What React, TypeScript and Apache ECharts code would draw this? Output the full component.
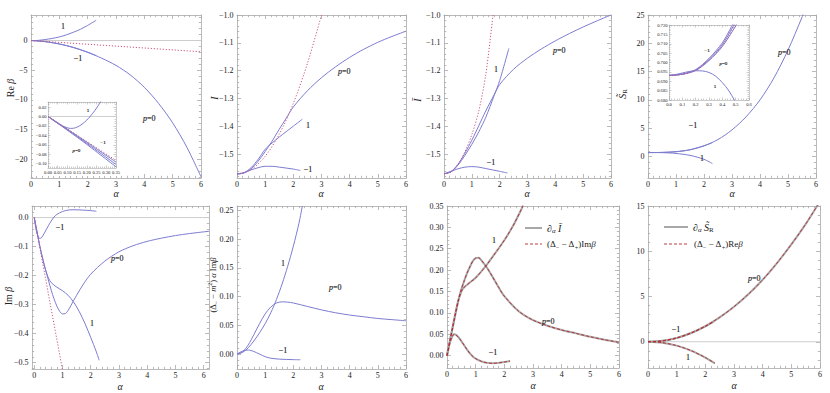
import React, { useEffect, useRef } from 'react';
import * as echarts from 'echarts';

// ---------------- tick labels ----------------
const alphaTicks = [0, 1, 2, 3, 4, 5, 6];
const reBetaTicks = [-20, -15, -10, -5, 0];
const iTicks = [-1.5, -1.4, -1.3, -1.2, -1.1, -1.0];
const sTicks = [0, 5, 10, 15, 20, 25];
const imBetaTicks = [-0.5, -0.4, -0.3, -0.2, -0.1, 0];
const dTicks = [0, 0.05, 0.1, 0.15, 0.2, 0.25];
const dITicks = [0, 0.05, 0.1, 0.15, 0.2, 0.25, 0.3, 0.35];
const dSTicks = [0, 5, 10, 15];
const inset1XTicks = [0, 0.05, 0.1, 0.15, 0.2, 0.25, 0.3, 0.35];
const inset1YTicks = [-0.1, -0.08, -0.06, -0.04, -0.02, 0, 0.02];
const inset4XTicks = [0, 0.1, 0.2, 0.3, 0.4, 0.5, 0.6];
const inset4YTicks = [0.68, 0.685, 0.69, 0.695, 0.7, 0.705, 0.71, 0.715, 0.72];

// ---------------- panel 1 : Re beta ----------------
const reBetaP0 = [[0, 0], [0.5, -0.2], [1, -0.6], [1.5, -1.2], [2, -2.0], [2.5, -3.0], [3, -4.2], [3.5, -5.8], [4, -7.9], [4.5, -10.6], [5, -13.9], [5.5, -18.0], [6, -23.0]];
const reBetaM1 = [[0, 0], [0.5, -0.19], [1, -0.58], [1.5, -1.17], [2, -1.97], [2.3, -2.55]];
const reBetaP1 = [[0, 0], [0.1, -0.025], [0.2, 0], [0.3, 0.045], [0.5, 0.16], [0.75, 0.35], [1, 0.6], [1.25, 0.95], [1.5, 1.4], [1.75, 1.9], [2, 2.55], [2.3, 3.4]];
const reBetaApprox = [[0, 0], [6, -1.9]];
const reBetaZero = [[0, 0], [6, 0]];
const reBetaLabels = [[1.14, 2.4, '1'], [1.67, -3.0, '−1'], [4.08, -13.1, 'p=0']];
// inset
const reInP1 = [[0, 0], [0.025, -0.0075], [0.05, -0.0145], [0.075, -0.02], [0.1, -0.024], [0.115, -0.0252], [0.13, -0.025], [0.15, -0.0225], [0.175, -0.0165], [0.2, -0.0075], [0.217, 0], [0.24, 0.012], [0.26, 0.024], [0.275, 0.034]];
const reInM1 = [[0, 0], [0.175, -0.0475], [0.35, -0.0965]];
const reInP0 = [[0, 0], [0.175, -0.0495], [0.35, -0.1015]];
const reInQ = [[0, 0], [0.175, -0.0515], [0.35, -0.1065]];
const reInApprox = [[0, 0], [0.35, -0.093]];
const reInZero = [[0, 0], [0.35, 0]];
const reInLabels = [[0.208, 0.0134, '1'], [0.285, -0.055, '−1'], [0.14, -0.071, 'p=0']];

// ---------------- panel 2 : I ----------------
const iP0 = [[0, -1.5708], [0.25, -1.567], [0.5, -1.552], [0.75, -1.525], [1, -1.49], [1.25, -1.452], [1.5, -1.41], [1.75, -1.37], [2, -1.33], [2.5, -1.272], [3, -1.225], [3.5, -1.186], [4, -1.152], [4.5, -1.123], [5, -1.098], [5.5, -1.077], [6, -1.058]];
const iP1 = [[0, -1.5708], [0.25, -1.566], [0.5, -1.548], [0.75, -1.518], [1, -1.482], [1.25, -1.459], [1.5, -1.438], [2, -1.399], [2.32, -1.374]];
const iM1 = [[0, -1.5708], [0.25, -1.566], [0.5, -1.556], [0.75, -1.548], [1, -1.543], [1.25, -1.543], [1.5, -1.546], [2, -1.553], [2.25, -1.558]];
const iApprox = [[0, -1.5708], [0.5, -1.555], [1, -1.507], [1.5, -1.428], [2, -1.317], [2.5, -1.174], [3, -1.0]];
const iLabels = [[3.72, -1.201, 'p=0'], [2.53, -1.396, '1'], [2.53, -1.552, '−1']];

// ---------------- panel 3 : I bar ----------------
const ibP0 = [[0, -1.5708], [0.25, -1.563], [0.5, -1.537], [0.75, -1.497], [1, -1.45], [1.25, -1.398], [1.5, -1.345], [1.8, -1.287], [2, -1.25], [2.5, -1.195], [3, -1.155], [3.5, -1.122], [4, -1.093], [4.5, -1.067], [5, -1.043], [5.5, -1.021], [6, -1.0]];
const ibP1 = [[0, -1.5708], [0.25, -1.564], [0.5, -1.54], [0.75, -1.505], [1, -1.465], [1.25, -1.42], [1.5, -1.368], [1.8, -1.29], [2, -1.236], [2.33, -1.12]];
const ibM1 = [[0, -1.5708], [0.25, -1.562], [0.5, -1.553], [0.75, -1.547], [1, -1.545], [1.25, -1.547], [1.5, -1.552], [2, -1.562], [2.28, -1.568]];
const ibApprox = [[0, -1.5708], [0.25, -1.565], [0.5, -1.537], [0.75, -1.492], [1, -1.43], [1.25, -1.345], [1.5, -1.215], [1.76, -1.0]];
const ibLabels = [[4.05, -1.127, 'p=0'], [1.86, -1.194, '1'], [1.7, -1.53, '−1']];

// ---------------- panel 4 : S_R ----------------
const sP0 = [[0, 0.693], [0.5, 0.72], [1, 0.84], [1.5, 1.18], [2, 1.88], [2.5, 3.0], [3, 4.7], [3.5, 7.0], [4, 10.0], [4.5, 13.9], [5, 18.8], [5.5, 24.6], [5.6, 25.9]];
const sM1 = [[0, 0.693], [0.5, 0.72], [1, 0.85], [1.5, 1.2], [2, 1.9], [2.3, 2.45]];
const sP1 = [[0, 0.693], [0.25, 0.695], [0.5, 0.679], [0.75, 0.63], [1, 0.54], [1.5, 0.2], [2, -0.5], [2.3, -1.25]];
const sLabels = [[4.77, 18.5, 'p=0'], [1.61, 5.6, '−1'], [1.93, -0.3, '1']];
// inset
const sInM1 = [[0, 0.6931], [0.1, 0.6938], [0.2, 0.6962], [0.3, 0.7022], [0.4, 0.7105], [0.47, 0.7193], [0.485, 0.7215]];
const sInP0 = [[0, 0.6931], [0.1, 0.6938], [0.2, 0.696], [0.3, 0.7016], [0.4, 0.7095], [0.48, 0.7192], [0.495, 0.7213]];
const sInQ = [[0, 0.6931], [0.1, 0.6937], [0.2, 0.6957], [0.3, 0.701], [0.4, 0.7085], [0.5, 0.7195], [0.512, 0.7213]];
const sInApprox = [[0, 0.6931], [0.1, 0.6937], [0.2, 0.6958], [0.3, 0.7013], [0.4, 0.709], [0.49, 0.7193], [0.505, 0.7213]];
const sInP1 = [[0, 0.6931], [0.05, 0.6936], [0.1, 0.6944], [0.15, 0.6952], [0.2, 0.6956], [0.25, 0.6955], [0.3, 0.6947], [0.35, 0.6927], [0.4, 0.6893], [0.45, 0.6848], [0.49, 0.68], [0.5, 0.6787]];
const sInLabels = [[0.284, 0.7067, '−1'], [0.397, 0.6996, 'p=0'], [0.347, 0.6873, '1']];

// ---------------- panel 5 : Im beta ----------------
const imP0 = [[0, 0], [0.1, -0.05], [0.2, -0.1], [0.3, -0.142], [0.4, -0.18], [0.5, -0.215], [0.6, -0.25], [0.7, -0.28], [0.8, -0.305], [0.9, -0.323], [1, -0.332], [1.1, -0.331], [1.2, -0.32], [1.3, -0.303], [1.4, -0.285], [1.5, -0.268], [1.75, -0.228], [2, -0.195], [2.5, -0.15], [3, -0.118], [3.5, -0.097], [4, -0.082], [4.5, -0.071], [5, -0.062], [5.5, -0.055], [6.2, -0.047]];
const imP1 = [[0, 0], [0.1, -0.05], [0.2, -0.1], [0.3, -0.143], [0.4, -0.18], [0.5, -0.208], [0.6, -0.224], [0.8, -0.24], [1, -0.252], [1.2, -0.268], [1.4, -0.292], [1.6, -0.325], [1.8, -0.366], [2, -0.413], [2.2, -0.463], [2.3, -0.492]];
const imM1 = [[0, 0], [0.05, -0.034], [0.1, -0.056], [0.15, -0.068], [0.2, -0.072], [0.25, -0.07], [0.3, -0.063], [0.4, -0.046], [0.5, -0.028], [0.6, -0.012], [0.7, 0.002], [0.8, 0.011], [1, 0.021], [1.2, 0.026], [1.4, 0.027], [1.7, 0.026], [2, 0.024], [2.2, 0.022]];
const imApprox = [[0, 0], [1, -0.525]];
const imZero = [[-0.08, 0], [6.19, 0]];
const imLabels = [[0.91, -0.031, '−1'], [2.85, -0.14, 'p=0'], [2.03, -0.364, '1']];

// ---------------- panel 6 : (Δ- - m²) α Im beta ----------------
const dP0 = [[0, 0], [0.2, 0.004], [0.4, 0.016], [0.6, 0.034], [0.8, 0.053], [1, 0.07], [1.2, 0.082], [1.4, 0.089], [1.6, 0.091], [1.8, 0.0905], [2, 0.089], [2.5, 0.083], [3, 0.077], [3.5, 0.072], [4, 0.068], [4.5, 0.065], [5, 0.062], [5.5, 0.06], [6, 0.058]];
const dP1 = [[0, 0], [0.2, 0.003], [0.4, 0.011], [0.6, 0.023], [0.8, 0.037], [1, 0.053], [1.2, 0.072], [1.4, 0.095], [1.6, 0.122], [1.8, 0.153], [2, 0.188], [2.2, 0.228], [2.32, 0.258]];
const dM1 = [[0, 0], [0.1, 0.003], [0.2, 0.0052], [0.3, 0.0066], [0.4, 0.007], [0.5, 0.0062], [0.6, 0.0045], [0.8, 0.0], [1, -0.0045], [1.2, -0.0072], [1.5, -0.0088], [2, -0.0097], [2.25, -0.0099]];
const dLabels = [[3.42, 0.117, 'p=0'], [1.64, 0.158, '1'], [1.64, 0.007, '−1']];

// ---------------- panel 7 : ∂α I bar ----------------
const dIP0 = [[0, 0], [0.1, 0.034], [0.2, 0.067], [0.3, 0.1], [0.4, 0.13], [0.5, 0.155], [0.6, 0.175], [0.7, 0.193], [0.8, 0.208], [0.9, 0.221], [1, 0.228], [1.1, 0.229], [1.2, 0.223], [1.4, 0.205], [1.6, 0.183], [1.8, 0.16], [2, 0.139], [2.5, 0.104], [3, 0.083], [3.5, 0.07], [4, 0.06], [4.5, 0.052], [5, 0.044], [5.5, 0.037], [6, 0.031]];
const dIP1 = [[0, 0], [0.1, 0.034], [0.2, 0.067], [0.3, 0.1], [0.4, 0.13], [0.5, 0.15], [0.6, 0.16], [0.8, 0.171], [1, 0.182], [1.3, 0.205], [1.6, 0.232], [2, 0.27], [2.3, 0.303], [2.6, 0.343], [2.65, 0.351]];
const dIM1 = [[0, 0], [0.1, 0.03], [0.2, 0.047], [0.25, 0.05], [0.3, 0.049], [0.4, 0.043], [0.5, 0.034], [0.6, 0.024], [0.7, 0.014], [0.8, 0.005], [0.9, -0.002], [1, -0.007], [1.2, -0.0135], [1.4, -0.017], [1.6, -0.018], [1.8, -0.017], [2, -0.015], [2.2, -0.0125]];
const dILabels = [[3.44, 0.081, 'p=0'], [1.65, 0.27, '1'], [1.61, 0.009, '−1']];

// ---------------- panel 8 : ∂α S_R ----------------
const dSP0 = [[0, 0], [0.5, 0.1], [1, 0.43], [1.5, 0.97], [2, 1.72], [2.5, 2.7], [3, 3.87], [3.5, 5.25], [4, 6.85], [4.5, 8.7], [5, 10.75], [5.5, 13.0], [5.9, 15.0], [6, 15.5]];
const dSM1 = [[0, 0], [0.5, 0.09], [1, 0.4], [1.5, 0.95], [2, 1.7], [2.3, 2.25]];
const dSP1 = [[0, 0], [0.5, -0.1], [1, -0.43], [1.5, -0.98], [2, -1.75], [2.33, -2.38]];
const dSZero = [[0, 0], [6, 0]];
const dSLabels = [[3.64, 7.0, 'p=0'], [0.99, 1.36, '−1'], [1.38, -1.73, '1']];

// ---------------- styling ----------------
const FONT = "'Liberation Serif', 'DejaVu Serif', serif";
const FRAME = '#a8a8a8';
const BLUE = '#7c7cd0';
const RED = '#cc5580';
const INK = '#222';

type LineDef = { data: any[]; st: string };
type Panel = {
  box: number[]; x: number[]; y: number[];
  xt: number[]; yt: number[]; xs: number; ys: number; xd: number; yd: number;
  lines: LineDef[]; labels: any[]; inset?: boolean; z: number;
};

const L = (data: any[], st: string): LineDef => ({ data, st });

const panels: Panel[] = [
  { box: [31, 15, 170, 163], x: [0, 6], y: [-23.2, 4.3], xt: alphaTicks, yt: reBetaTicks, xs: 5, ys: 5, xd: 0, yd: 0, z: 0,
    lines: [L(reBetaZero, 'zero'), L(reBetaP0, 'blue'), L(reBetaM1, 'blue'), L(reBetaP1, 'blue'), L(reBetaApprox, 'red')], labels: reBetaLabels },
  { box: [237, 15, 169, 163], x: [0, 6], y: [-1.585, -1.0], xt: alphaTicks, yt: iTicks, xs: 5, ys: 5, xd: 0, yd: 1, z: 0,
    lines: [L(iP0, 'blue'), L(iP1, 'blue'), L(iM1, 'blue'), L(iApprox, 'red')], labels: iLabels },
  { box: [444, 15, 167, 163], x: [0, 6], y: [-1.586, -1.0], xt: alphaTicks, yt: iTicks, xs: 5, ys: 5, xd: 0, yd: 1, z: 0,
    lines: [L(ibP0, 'blue'), L(ibP1, 'blue'), L(ibM1, 'blue'), L(ibApprox, 'red')], labels: ibLabels },
  { box: [648, 15, 168, 163], x: [0, 6], y: [-3.8, 25], xt: alphaTicks, yt: sTicks, xs: 5, ys: 5, xd: 0, yd: 0, z: 0,
    lines: [L(sP0, 'blue'), L(sM1, 'blue'), L(sP1, 'blue')], labels: sLabels },
  { box: [32, 206, 177, 163], x: [-0.08, 6.19], y: [-0.522, 0.04], xt: alphaTicks, yt: imBetaTicks, xs: 5, ys: 5, xd: 0, yd: 1, z: 0,
    lines: [L(imZero, 'zero'), L(imP0, 'blue'), L(imP1, 'blue'), L(imM1, 'blue'), L(imApprox, 'red')], labels: imLabels },
  { box: [237, 206, 169, 163], x: [0, 6], y: [-0.026, 0.258], xt: alphaTicks, yt: dTicks, xs: 5, ys: 5, xd: 0, yd: 2, z: 0,
    lines: [L(dP0, 'blue'), L(dP1, 'blue'), L(dM1, 'blue')], labels: dLabels },
  { box: [447, 206, 172, 162], x: [0, 6], y: [-0.029, 0.35], xt: alphaTicks, yt: dITicks, xs: 5, ys: 5, xd: 0, yd: 2, z: 0,
    lines: [L(dIP0, 'gray'), L(dIP1, 'gray'), L(dIM1, 'gray'), L(dIP0, 'reddash'), L(dIP1, 'reddash'), L(dIM1, 'reddash')], labels: dILabels },
  { box: [648, 206, 172, 162], x: [0, 6], y: [-2.9, 15], xt: alphaTicks, yt: dSTicks, xs: 5, ys: 5, xd: 0, yd: 0, z: 0,
    lines: [L(dSZero, 'zero'), L(dSP0, 'gray'), L(dSM1, 'gray'), L(dSP1, 'gray'), L(dSP0, 'reddash'), L(dSM1, 'reddash'), L(dSP1, 'reddash')], labels: dSLabels },
  { box: [48, 102, 68, 66], x: [0, 0.35], y: [-0.109, 0.0306], xt: inset1XTicks, yt: inset1YTicks, xs: 5, ys: 4, xd: 2, yd: 2, z: 10, inset: true,
    lines: [L(reInZero, 'zero'), L(reInP1, 'blue'), L(reInM1, 'blue'), L(reInP0, 'blue'), L(reInQ, 'blue'), L(reInApprox, 'red')], labels: reInLabels },
  { box: [669, 25, 80, 75], x: [0, 0.6], y: [0.68, 0.72], xt: inset4XTicks, yt: inset4YTicks, xs: 5, ys: 5, xd: 1, yd: 3, z: 10, inset: true,
    lines: [L(sInP1, 'blue'), L(sInM1, 'blue'), L(sInP0, 'blue'), L(sInQ, 'blue'), L(sInApprox, 'red')], labels: sInLabels },
];

function subTicks(majors: number[], sub: number, lo: number, hi: number) {
  const step = (majors[1] - majors[0]) / sub;
  const out: number[] = [];
  const start = Math.ceil(lo / step - 1e-9);
  const end = Math.floor(hi / step + 1e-9);
  for (let k = start; k <= end; k++) {
    const v = Math.round(k * step * 1e6) / 1e6;
    if (!majors.some((m) => Math.abs(m - v) < step * 1e-3)) out.push(v);
  }
  return out;
}

function fmt(dec: number) {
  return (v: number) => {
    const s = Math.abs(v).toFixed(dec);
    return (v < -1e-9 ? '\u2212' : '') + s;
  };
}

function axisSet(gi: number, isX: boolean, range: number[], majors: number[], sub: number, dec: number, p: Panel) {
  const posA = isX ? 'bottom' : 'left';
  const posB = isX ? 'top' : 'right';
  const minors = subTicks(majors, sub, range[0], range[1]);
  const frame = { color: FRAME, width: p.inset ? 0.6 : 0.8 };
  const tl = p.inset ? 2.5 : 4;
  const ml = p.inset ? 1.4 : 2.2;
  const base = { type: 'value', gridIndex: gi, min: range[0], max: range[1], z: p.z, splitLine: { show: false } };
  const fs = p.inset ? 4.6 : 8;
  const margin = p.inset ? 1.5 : isX ? 2 : 3.5;
  return [
    { ...base, position: posA,
      axisLine: { show: true, onZero: false, lineStyle: frame },
      axisTick: { show: true, inside: true, length: tl, customValues: majors, lineStyle: frame },
      axisLabel: { show: true, customValues: majors, formatter: fmt(dec), fontFamily: FONT, fontSize: fs, color: INK, margin } },
    { ...base, position: posA,
      axisLine: { show: false, onZero: false },
      axisTick: { show: true, inside: true, length: ml, customValues: minors, lineStyle: frame },
      axisLabel: { show: false } },
    { ...base, position: posB,
      axisLine: { show: true, onZero: false, lineStyle: frame },
      axisTick: { show: true, inside: true, length: tl, customValues: majors, lineStyle: frame },
      axisLabel: { show: false } },
    { ...base, position: posB,
      axisLine: { show: false, onZero: false },
      axisTick: { show: true, inside: true, length: ml, customValues: minors, lineStyle: frame },
      axisLabel: { show: false } },
  ];
}

function lineStyleFor(st: string) {
  switch (st) {
    case 'red': return { color: RED, width: 1, type: [1.2, 1.8] };
    case 'zero': return { color: '#cdcdcd', width: 1, type: 'solid' };
    case 'gray': return { color: '#a8a8a8', width: 2, type: 'solid' };
    case 'reddash': return { color: '#b5272d', width: 0.9, type: [3, 2] };
    default: return { color: BLUE, width: 1, type: 'solid' };
  }
}

const richT = (fs: number) => ({
  n: { fontFamily: FONT, fontSize: fs, lineHeight: fs + 3, verticalAlign: 'middle', fill: INK },
  i: { fontFamily: FONT, fontStyle: 'italic', fontSize: fs, lineHeight: fs + 3, verticalAlign: 'middle', fill: INK },
  s: { fontFamily: FONT, fontSize: fs * 0.7, lineHeight: fs * 0.55, verticalAlign: 'bottom', fill: INK },
  si: { fontFamily: FONT, fontStyle: 'italic', fontSize: fs * 0.7, lineHeight: fs * 0.55, verticalAlign: 'bottom', fill: INK },
  p: { fontFamily: FONT, fontSize: fs * 0.7, lineHeight: fs * 0.55, verticalAlign: 'top', fill: INK },
});
const T = (x: number, y: number, text: string, fs: number, opts: any = {}) => ({
  type: 'text', x, y, z: opts.z ?? 30, rotation: opts.rot ? Math.PI / 2 : 0,
  style: { text, rich: richT(fs), fontFamily: FONT, fontSize: fs, fill: INK, align: opts.align || 'center', verticalAlign: 'middle' },
});
// plain (non-rich) text element with a hairline stroke in the same ink
const P = (x: number, y: number, text: string, fs: number, italic: boolean, align: string, z: number) => ({
  type: 'text', x, y, z,
  style: { text, fontFamily: FONT, fontSize: fs, fontStyle: italic ? 'italic' : 'normal', fill: '#1a1a1a', stroke: '#1a1a1a', lineWidth: 0.15, align, verticalAlign: 'middle' },
});

function buildOption() {
  const grid: any[] = [];
  const xAxis: any[] = [];
  const yAxis: any[] = [];
  const series: any[] = [];
  panels.forEach((p, gi) => {
    grid.push({ left: p.box[0], top: p.box[1], width: p.box[2], height: p.box[3], containLabel: false, z: p.z });
    xAxis.push(...axisSet(gi, true, p.x, p.xt, p.xs, p.xd, p));
    yAxis.push(...axisSet(gi, false, p.y, p.yt, p.ys, p.yd, p));
    const xi = gi * 4;
    const yi = gi * 4;
    p.lines.forEach((ln) => {
      series.push({
        type: 'line', xAxisIndex: xi, yAxisIndex: yi, data: ln.data,
        symbol: 'none', showSymbol: false, silent: true, clip: true,
        smooth: ln.data.length > 2 ? 0.3 : false,
        lineStyle: lineStyleFor(ln.st),
        z: p.z + 2 + (ln.st === 'red' || ln.st === 'reddash' ? 1 : 0),
      });
    });
  });

  const alphaTitle = '{i|α}';
  const graphic: any[] = [
    { type: 'rect', z: 5, shape: { x: 33, y: 99, width: 86, height: 77 }, style: { fill: '#fff' } },
    { type: 'rect', z: 5, shape: { x: 655, y: 19, width: 97, height: 89 }, style: { fill: '#fff' } },
    T(116, 193, alphaTitle, 10), T(321, 193, alphaTitle, 10), T(527, 193, alphaTitle, 10), T(732, 193, alphaTitle, 10),
    T(120, 386, alphaTitle, 10), T(321, 386, alphaTitle, 10), T(533, 385, alphaTitle, 10), T(734, 385, alphaTitle, 10),
    T(10, 88, '{n|Re }{i|β}', 10, { rot: true }),
    T(214, 98, '{i|I}', 10, { rot: true }),
    T(417, 100, '{i|Ī}', 10, { rot: true }),
    T(622, 94, '{i|S̃}{s|R}', 10, { rot: true }),
    T(8, 296, '{n|Im }{i|β}', 10, { rot: true }),
    T(213, 285, '{n|(Δ}{s|−}{n| − }{i|m}{p|2}{n|) }{i|α}{n| Im}{i|β}', 8.5, { rot: true }),
    // legend panel 7
    { type: 'line', z: 30, shape: { x1: 525, y1: 228, x2: 542, y2: 228 }, style: { stroke: '#a8a8a8', lineWidth: 2 } },
    { type: 'line', z: 30, shape: { x1: 525, y1: 244, x2: 542, y2: 244 }, style: { stroke: '#b5272d', lineWidth: 0.9, lineDash: [3, 2] } },
    T(547, 228, '{n|∂}{si|α}{n| }{i|Ī}', 10, { align: 'left' }),
    T(547, 244, '{n|(Δ}{s|−}{n| − Δ}{s|+}{n|)Im}{i|β}', 9, { align: 'left' }),
    // legend panel 8
    { type: 'line', z: 30, shape: { x1: 664, y1: 227, x2: 688, y2: 227 }, style: { stroke: '#a8a8a8', lineWidth: 2 } },
    { type: 'line', z: 30, shape: { x1: 664, y1: 244, x2: 688, y2: 244 }, style: { stroke: '#b5272d', lineWidth: 0.9, lineDash: [3, 2] } },
    T(693, 227, '{n|∂}{si|α}{n| }{i|S̃}{s|R}', 10, { align: 'left' }),
    T(694, 244, '{n|(Δ}{s|−}{n| − Δ}{s|+}{n|)Re}{i|β}', 9, { align: 'left' }),
  ];

  return {
    animation: false,
    backgroundColor: '#fff',
    textStyle: { fontFamily: FONT },
    grid, xAxis, yAxis, series, graphic,
  };
}

export default function App() {
  const ref = useRef<HTMLDivElement>(null);
  useEffect(() => {
    if (!ref.current) return;
    const chart = echarts.init(ref.current, undefined, { renderer: 'svg' });
    const option: any = buildOption();
    chart.setOption(option);
    // curve labels, placed through the axes' own scales
    const labelEls: any[] = [];
    panels.forEach((p, gi) => {
      const lf = p.inset ? 5 : 8;
      const z = p.inset ? 40 : 4;
      p.labels.forEach((l: any) => {
        const pt = chart.convertToPixel({ xAxisIndex: gi * 4, yAxisIndex: gi * 4 } as any, [l[0], l[1]]) as any;
        const x = Math.round(pt[0]);
        const y = Math.round(pt[1]);
        if (l[2] === 'p=0') {
          labelEls.push(P(x, y, 'p', lf, true, 'right', z));
          labelEls.push(P(x, y, '=0', lf, false, 'left', z));
        } else {
          labelEls.push(P(x, y, l[2], lf, false, 'center', z));
        }
      });
    });
    chart.setOption({ graphic: [...option.graphic, ...labelEls] });
    return () => chart.dispose();
  }, []);
  return <div ref={ref} style={{ position: 'fixed', left: 0, top: 0, width: 830, height: 393, background: '#fff' }} />;
}
